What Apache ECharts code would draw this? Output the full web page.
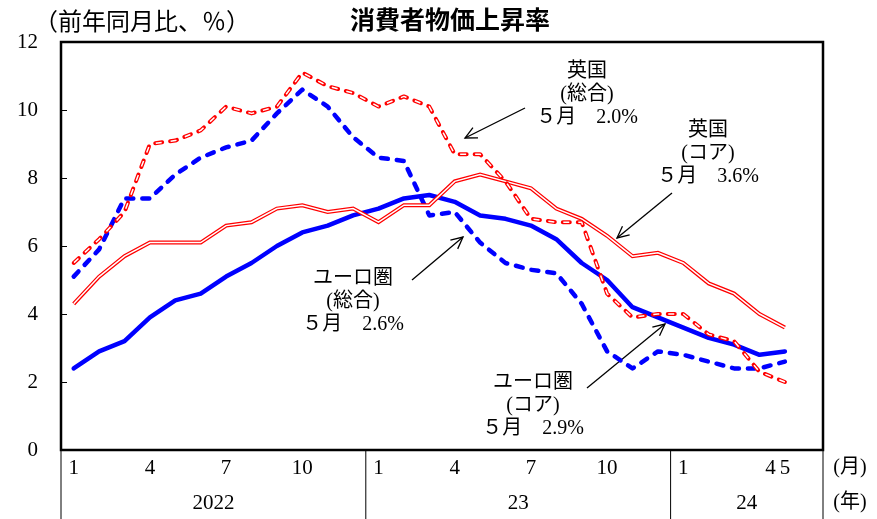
<!DOCTYPE html>
<html>
<head>
<meta charset="utf-8">
<script src="https://cdn.jsdelivr.net/npm/echarts@6/dist/echarts.min.js"></script>
<style>
html,body{margin:0;padding:0;background:#fff;}
#c{width:877px;height:519px;}
</style>
</head>
<body>
<div id="c"></div>
<script>
// Monthly slots Jan 2022 .. Jun 2024 (the last slot is spare room at the right edge)
const months = [
  '2022-01','2022-02','2022-03','2022-04','2022-05','2022-06','2022-07','2022-08','2022-09','2022-10','2022-11','2022-12',
  '2023-01','2023-02','2023-03','2023-04','2023-05','2023-06','2023-07','2023-08','2023-09','2023-10','2023-11','2023-12',
  '2024-01','2024-02','2024-03','2024-04','2024-05','2024-06'
];
const monthTicks = ['1','','','4','','','7','','','10','','',
                    '1','','','4','','','7','','','10','','',
                    '1','','','4','5',''];
const yearBlocks = [
  { label: '2022', first: 0, last: 11 },
  { label: '23', first: 12, last: 23 },
  { label: '24', first: 24, last: 29 }
];

// Consumer price inflation, % y/y
const ukHeadline   = [5.5,6.2,7.0,9.0,9.1,9.4,10.1,9.9,10.1,11.1,10.7,10.5,10.1,10.4,10.1,8.7,8.7,7.9,6.8,6.7,6.7,4.6,3.9,4.0,4.0,3.4,3.2,2.3,2.0];
const ukCore       = [4.3,5.1,5.7,6.1,6.1,6.1,6.6,6.7,7.1,7.2,7.0,7.1,6.7,7.2,7.2,7.9,8.1,7.9,7.7,7.1,6.8,6.3,5.7,5.8,5.5,4.9,4.6,4.0,3.6];
const euroHeadline = [5.1,5.9,7.4,7.4,8.1,8.6,8.9,9.1,9.9,10.6,10.1,9.2,8.6,8.5,6.9,7.0,6.1,5.5,5.3,5.2,4.3,2.9,2.4,2.9,2.8,2.6,2.4,2.4,2.6];
const euroCore     = [2.4,2.9,3.2,3.9,4.4,4.6,5.1,5.5,6.0,6.4,6.6,6.9,7.1,7.4,7.5,7.3,6.9,6.8,6.6,6.2,5.5,5.0,4.2,3.9,3.6,3.3,3.1,2.8,2.9];

const SERIF = "'Liberation Serif','Noto Sans CJK JP',serif";
const SANS = "'Noto Sans CJK JP',sans-serif";
const RED = '#ff0000';
const BLUE = '#0000ff';

const chart = echarts.init(document.getElementById('c'), null, { renderer: 'canvas' });

const option = {
  animation: false,
  backgroundColor: '#fff',
  grid: {
    left: 61, right: 54, top: 42, bottom: 69,
    show: true, borderColor: '#000', borderWidth: 2.5, backgroundColor: 'transparent'
  },
  xAxis: {
    type: 'category',
    data: months,
    boundaryGap: true,
    axisLine: { show: false },
    axisTick: { show: false },
    axisLabel: {
      interval: 0,
      margin: 8,
      color: '#000',
      fontSize: 21,
      fontFamily: SERIF,
      formatter: function (v, i) {
        const t = monthTicks[i] || '';
        if (i === 27 && t) return '{sh|' + t + '}';
        return t;
      },
      rich: { sh: { fontSize: 21, fontFamily: SERIF, color: '#000', padding: [0, 0, 0, 22] } }
    },
    splitLine: { show: false }
  },
  yAxis: {
    type: 'value',
    min: 0, max: 12, interval: 2,
    axisLine: { show: false },
    axisTick: { show: true, inside: true, length: 6, lineStyle: { color: '#000', width: 1 } },
    splitLine: { show: false },
    axisLabel: { margin: 23, color: '#000', fontSize: 21, fontFamily: SERIF }
  },
  series: [
    {
      name: 'ユーロ圏（コア）', type: 'line', data: euroCore, symbol: 'none', silent: true,
      lineStyle: { color: BLUE, width: 4.5, cap: 'round', join: 'round' }, z: 2
    },
    {
      name: 'ユーロ圏（総合）', type: 'line', data: euroHeadline, symbol: 'none', silent: true,
      lineStyle: { color: BLUE, width: 4.5, type: [7, 9], cap: 'round', join: 'round' }, z: 2
    },
    {
      name: '英国（コア）', type: 'line', data: ukCore, symbol: 'none', silent: true,
      lineStyle: { color: RED, width: 4, join: 'miter' }, z: 3
    },
    {
      name: '英国（コア）内側', type: 'line', data: ukCore, symbol: 'none', silent: true,
      lineStyle: { color: '#fff', width: 1.5, join: 'miter' }, z: 3
    },
    {
      name: '英国（総合）', type: 'line', data: ukHeadline, symbol: 'none', silent: true,
      lineStyle: { color: RED, width: 4, type: [7, 8], cap: 'round', join: 'round' }, z: 4
    },
    {
      name: '英国（総合）内側', type: 'line', data: ukHeadline, symbol: 'none', silent: true,
      lineStyle: { color: '#fff', width: 1.5, type: [6, 9], dashOffset: -0.5, join: 'round' }, z: 4
    }
  ]
};
chart.setOption(option);

// ---- decorations: title, unit, year row, separators, callouts ----
const px = i => chart.convertToPixel({ xAxisIndex: 0 }, months[i]);
const slot = px(1) - px(0);
const yBottom = chart.convertToPixel({ yAxisIndex: 0 }, 0);
const H = 519;

const g = [];
function text(x, y, s, size, align, family, weight) {
  g.push({
    type: 'text', x: x, y: y, silent: true,
    style: {
      text: s, fill: '#000', fontSize: size, fontFamily: family || SERIF,
      fontWeight: weight || 'normal', align: align || 'center', verticalAlign: 'middle'
    }
  });
}
function line(x1, y1, x2, y2, w) {
  g.push({
    type: 'line', silent: true,
    shape: { x1: x1, y1: y1, x2: x2, y2: y2 },
    style: { stroke: '#000', lineWidth: w || 1 }
  });
}
function arrow(x1, y1, x2, y2) {
  line(x1, y1, x2, y2, 1.3);
  const a = Math.atan2(y1 - y2, x1 - x2);
  const L = 13, s = 0.45;
  g.push({
    type: 'polyline', silent: true,
    shape: { points: [
      [x2 + L * Math.cos(a + s), y2 + L * Math.sin(a + s)],
      [x2, y2],
      [x2 + L * Math.cos(a - s), y2 + L * Math.sin(a - s)]
    ] },
    style: { stroke: '#000', lineWidth: 1.3, fill: null }
  });
}

// title and unit
text(450, 19, '消費者物価上昇率', 25, 'center', SANS, 'bold');
text(34, 21, '（前年同月比、％）', 24, 'left', SANS);

// year row and block separators
yearBlocks.forEach(b => {
  const xl = px(b.first) - slot / 2;
  const xr = px(b.last) + slot / 2;
  if (b.first === 0) line(xl, yBottom, xl, H, 1);
  line(xr, yBottom, xr, H, 1);
  text((xl + xr) / 2, 503, b.label, 21, 'center', SERIF);
});
text(850, 468, '(月)', 20, 'center', SERIF);
text(850, 503, '(年)', 20, 'center', SERIF);

// callouts
const LH = 23;
function callout(cx, cy, lines) {
  lines.forEach((s, k) => text(cx, cy + k * LH, s, 20, 'center', SERIF));
}
callout(587, 72, ['英国', '(総合)', '５月　2.0%']);
arrow(525, 108, 465, 138);

callout(708, 131, ['英国', '(コア)', '５月　3.6%']);
arrow(672, 193, 617, 238);

callout(353, 279, ['ユーロ圏', '(総合)', '５月　2.6%']);
arrow(412, 280, 463, 237);

callout(533, 383, ['ユーロ圏', '(コア)', '５月　2.9%']);
arrow(587, 388, 665, 324);

chart.setOption({ graphic: { elements: g } });
</script>
</body>
</html>
